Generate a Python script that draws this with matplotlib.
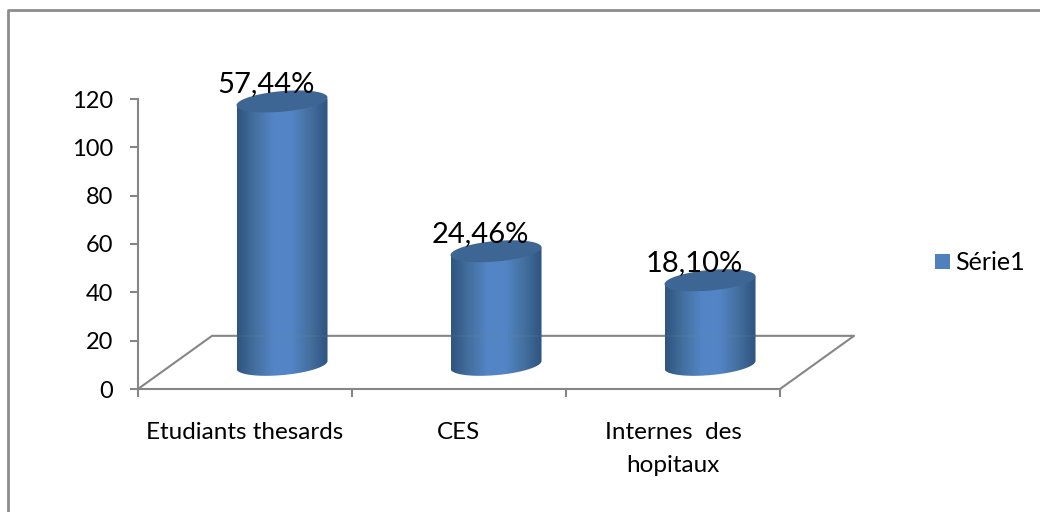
import numpy as np
import matplotlib
matplotlib.use("Agg")
from matplotlib import pyplot as plt
from matplotlib.colors import LinearSegmentedColormap
from matplotlib.patches import PathPatch, Polygon, Rectangle
from matplotlib.path import Path

categories = ["Etudiants thesards", "CES", "Internes  des\nhopitaux"]
values = [109, 47, 35]
labels = ["57,44%", "24,46%", "18,10%"]
y_ticks = [0, 20, 40, 60, 80, 100, 120]
series_name = "Série1"

W, H = 1040, 512
GREY = "#868686"
plt.rcParams['font.family'] = ['Lato', 'DejaVu Sans']

fig = plt.figure(figsize=(W / 100, H / 100), dpi=100)
# plot area in pixels: x 138..780, y 99..389
ax = fig.add_axes([138 / W, 1 - 389 / H, 642 / W, 290 / H])
ax.set_xlim(0, 3)
ax.set_ylim(0, 120)
ax.patch.set_alpha(0)

for s in ["top", "right"]:
    ax.spines[s].set_visible(False)
for s in ["left", "bottom"]:
    ax.spines[s].set_color(GREY)
    ax.spines[s].set_linewidth(1.5)

ax.set_yticks(y_ticks)
ax.set_xticks([0, 1, 2, 3])
ax.set_xticklabels([])
ax.tick_params(axis="both", color=GREY, width=1.5, length=6)
ax.tick_params(axis="y", labelsize=17, pad=12, labelcolor="black")

# category labels sit between the ticks
for i, c in enumerate(categories):
    ax.annotate(c, (i + 0.5, 0), xytext=(0, -24), textcoords="offset points",
                ha="center", va="top", fontsize=17.5, linespacing=1.7)

# floor of the 3D box
dx, dy = 0.346, 22
floor_x = [0, dx, 3 + dx, 3]
floor_y = [0, dy, dy, 0]
ax.plot(floor_x, floor_y, color=GREY, lw=1.5, clip_on=False, zorder=1)
# the back line shows faintly through the cylinders
ax.plot([dx, 3 + dx], [dy, dy], color=GREY, lw=1.5, alpha=0.12, clip_on=False, zorder=3.5)

# cylinders
cmap = LinearSegmentedColormap.from_list("cyl", ["#2f5480", "#44709f", "#5385c6", "#5385c6", "#44709f", "#2f5480"])
grad = np.linspace(0, 1, 256).reshape(1, -1)
half_w = 0.2126
ell_h = 4.26
tilt = 1.6  # ellipses rise to the right
base = 10
t = np.linspace(0, 2 * np.pi, 121)

for i, v in enumerate(values):
    cx = i + 0.5 + dx / 2
    top = base + v
    left, right = cx - half_w, cx + half_w
    lower = t[60:]  # pi..2pi, front half of the bottom ellipse
    xs = cx + half_w * np.cos(lower)
    ys = base + ell_h * np.sin(lower) + tilt * np.cos(lower)
    verts = list(zip(xs, ys)) + [(right, top + tilt), (left, top - tilt), (left, base - tilt)]
    codes = [Path.MOVETO] + [Path.LINETO] * (len(verts) - 2) + [Path.CLOSEPOLY]
    body = PathPatch(Path(verts, codes), fc="none", ec="none", zorder=3)
    ax.add_patch(body)
    im = ax.imshow(grad, extent=[left, right, base - ell_h - 3, top + 3], cmap=cmap,
                   aspect="auto", zorder=3, interpolation="bilinear")
    im.set_clip_path(body)
    cap = np.column_stack([cx + half_w * np.cos(t), top + ell_h * np.sin(t) + tilt * np.cos(t)])
    ax.add_patch(Polygon(cap, closed=True, fc="#3e6694", ec="none", zorder=4, clip_on=False))
    ax.text(cx - 0.073, top + 4.55 - 0.7, labels[i], ha="center", va="baseline",
            fontsize=21, color="black", zorder=5, clip_on=False)

ax.set_xlim(0, 3)
ax.set_ylim(0, 120)

# legend drawn by hand to keep its exact place
fig.add_artist(Rectangle((935 / W, 1 - 269 / H), 15 / W, 15 / H, transform=fig.transFigure,
                         fc="#4f81bd", ec="none"))
fig.text(955 / W, 1 - 262 / H, series_name, ha="left", va="center", fontsize=18)

# outer frame
frame_x = [7.5 / W, 7.5 / W, 1.0]
frame_y = [0.0, 1 - 9.5 / H, 1 - 9.5 / H]
fig.add_artist(plt.Line2D(frame_x, frame_y, color="#8c8c8c", lw=2, transform=fig.transFigure))

fig.savefig("out.png", dpi=100)
